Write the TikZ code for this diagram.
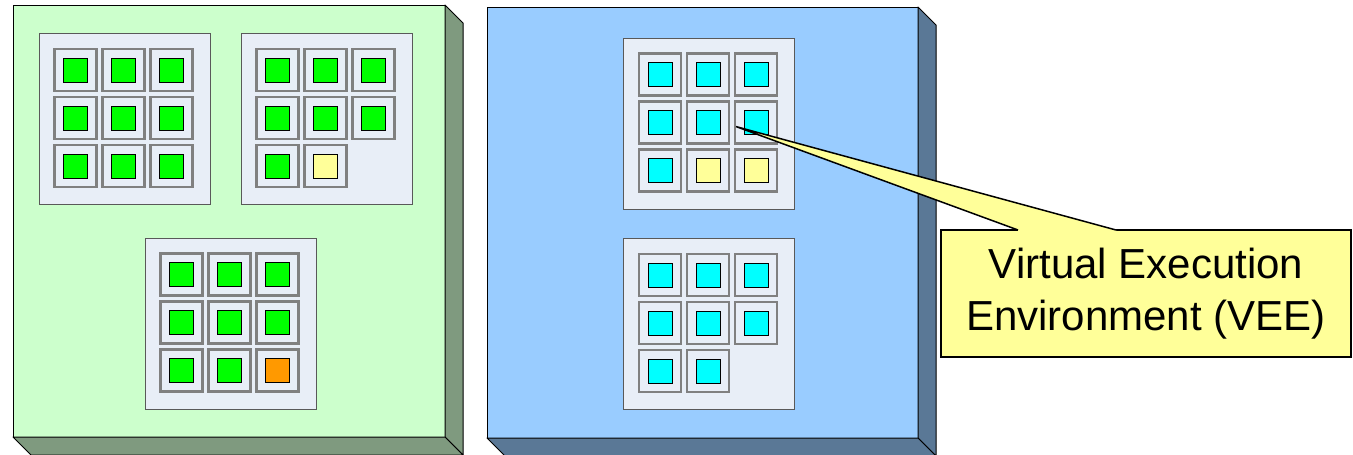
\documentclass[tikz,border=0pt]{standalone}
\usepackage{fontspec}
\setmainfont{Liberation Sans}
\usetikzlibrary{calc}
\definecolor{hostgreen}{RGB}{204,255,204}
\definecolor{hostgreendk}{RGB}{127,154,127}
\definecolor{hostblue}{RGB}{153,204,255}
\definecolor{hostbluedk}{RGB}{90,120,150}
\definecolor{boardfill}{RGB}{232,238,247}
\definecolor{slotgray}{RGB}{128,128,128}
\definecolor{vmgreen}{RGB}{0,255,0}
\definecolor{vmcyan}{RGB}{0,255,255}
\definecolor{vmyellow}{RGB}{255,255,153}
\definecolor{vmorange}{RGB}{255,153,0}
\tikzset{
  hostface/.style={draw=black,line width=1pt,minimum width=432pt,minimum height=432pt,inner sep=0pt,outer sep=0pt},
  hostside/.style={draw=black,line width=1pt,line join=round},
  board/.style={draw=black!65,fill=boardfill,line width=0.8pt,minimum size=171pt,inner sep=0pt},
  slot/.style={draw=slotgray,line width=2.5pt,minimum size=42pt,inner sep=0pt},
  vm/.style={draw=black,line width=1pt,minimum size=24pt,inner sep=0pt},
  vee/.style={draw=black,fill=vmyellow,line width=2pt,minimum width=410pt,minimum height=127pt,
    inner sep=0pt,outer sep=0pt,align=center,font=\fontsize{42}{52}\selectfont},
  ptr/.style={draw=black,line width=1.5pt,line join=miter}
}
% one board of slots, filled row by row
\newcommand{\vmgrid}[2]{%
  \foreach \c [count=\i from 0] in {#2} {
    \pgfmathtruncatemacro\col{mod(\i,3)}
    \pgfmathtruncatemacro\row{div(\i,3)}
    \node[slot] (#1s\i) at ($(#1.north west)+(37+48*\col,37+48*\row)$) {};
    \node[vm,fill=\c] (#1v\i) at (#1s\i) {};
  }%
}

\begin{document}
\begin{tikzpicture}[x=1pt,y=-1pt]
  \useasboundingbox (0,0) rectangle (1353,455);

  % hosts
  \node[hostface,fill=hostgreen] (hostL) at (229,221) {};
  \filldraw[hostside,fill=hostgreendk] (hostL.north east) -- ++(18,18) -- ($(hostL.south east)+(18,18)$) -- (hostL.south east) -- cycle;
  \filldraw[hostside,fill=hostgreendk] (hostL.south west) -- (hostL.south east) -- ++(18,18) -- ($(hostL.south west)+(18,18)$) -- cycle;

  \node[hostface,fill=hostblue,minimum width=431pt,minimum height=431pt] (hostR) at (702.5,222.5) {};
  \filldraw[hostside,fill=hostbluedk] (hostR.north east) -- ++(18,18) -- ($(hostR.south east)+(18,18)$) -- (hostR.south east) -- cycle;
  \filldraw[hostside,fill=hostbluedk] (hostR.south west) -- (hostR.south east) -- ++(18,18) -- ($(hostR.south west)+(18,18)$) -- cycle;

  % boards
  \node[board] (b1) at (124.5,119) {};
  \node[board] (b2) at (326.5,119) {};
  \node[board] (b3) at (230.5,323.5) {};
  \node[board] (bA) at (709,123.5) {};
  \node[board] (bB) at (709,324) {};

  \vmgrid{b1}{vmgreen,vmgreen,vmgreen,vmgreen,vmgreen,vmgreen,vmgreen,vmgreen,vmgreen}
  \vmgrid{b2}{vmgreen,vmgreen,vmgreen,vmgreen,vmgreen,vmgreen,vmgreen,vmyellow}
  \vmgrid{b3}{vmgreen,vmgreen,vmgreen,vmgreen,vmgreen,vmgreen,vmgreen,vmgreen,vmorange}
  \vmgrid{bA}{vmcyan,vmcyan,vmcyan,vmcyan,vmcyan,vmcyan,vmcyan,vmyellow,vmyellow}
  \vmgrid{bB}{vmcyan,vmcyan,vmcyan,vmcyan,vmcyan,vmcyan,vmcyan,vmcyan}

  % callout
  \node[vee] (vee) at (1146,293.5) {Virtual Execution\\Environment (VEE)};
  \coordinate (veetip) at ($(bAs5)+(-20,4)$);
  \coordinate (veeL) at ($(vee.north west)+(77,0)$);
  \coordinate (veeR) at ($(vee.north west)+(175,0)$);
  \fill[vmyellow] ($(veeL)+(0,2)$) -- (veeL) -- (veetip) -- (veeR) -- ($(veeR)+(0,2)$) -- cycle;
  \draw[ptr] (veeL) -- (veetip) -- (veeR);
\end{tikzpicture}
\end{document}
